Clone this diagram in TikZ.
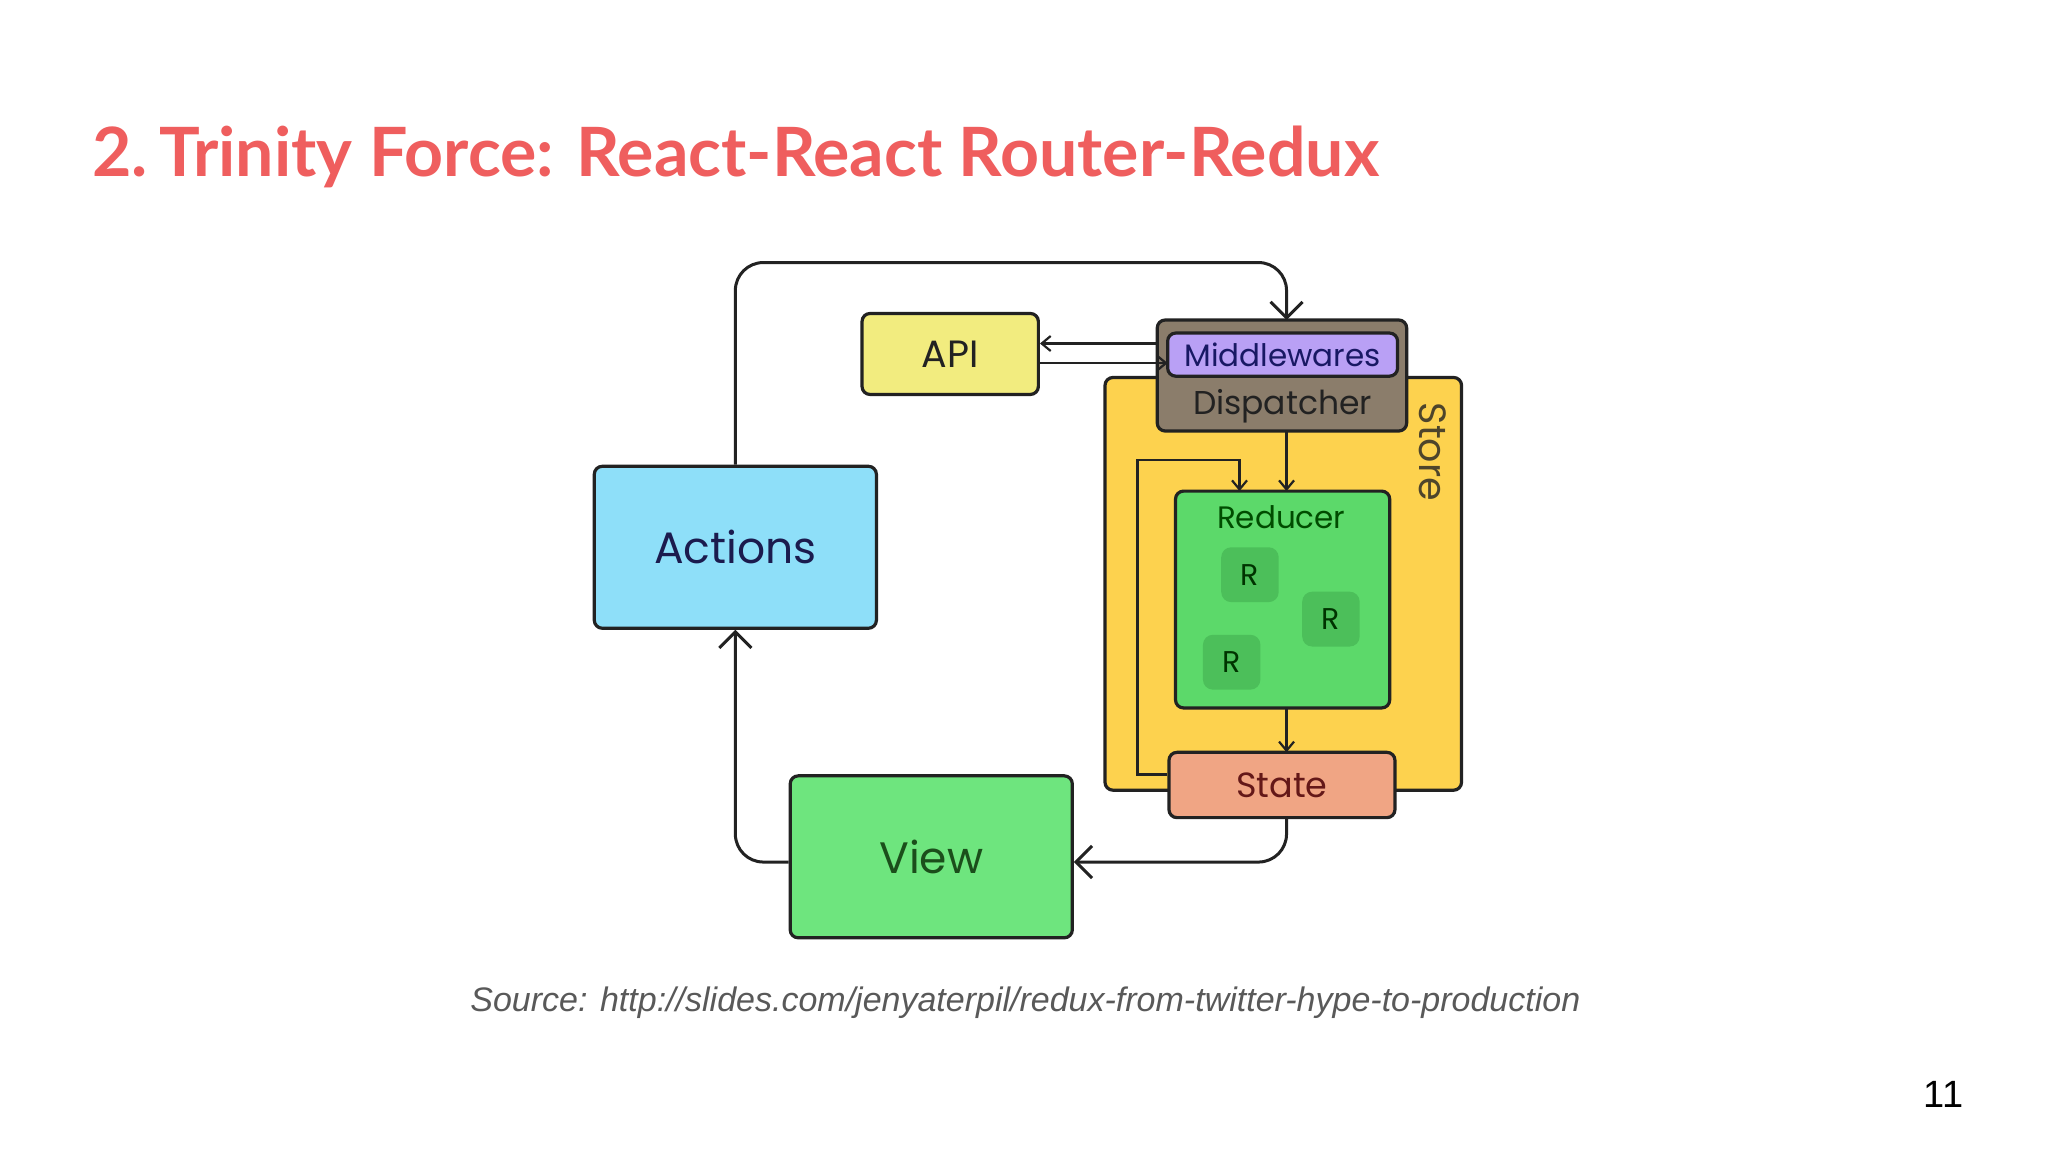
\documentclass[tikz,border=0pt]{standalone}
\usepackage{fontspec}
\setmainfont{Lato}
\newfontfamily\diag{Poppins}
\newfontfamily\src{Liberation Sans}
\usetikzlibrary{arrows.meta}
\definecolor{titlec}{HTML}{EF5E5E}
\definecolor{actc}{HTML}{8EDFF9}
\definecolor{viewc}{HTML}{6EE57E}
\definecolor{apic}{HTML}{F2EC7F}
\definecolor{dispc}{HTML}{8B7D6B}
\definecolor{midc}{HTML}{B9A0F5}
\definecolor{storec}{HTML}{FDD24E}
\definecolor{redc}{HTML}{5CD96A}
\definecolor{rc}{HTML}{4CBF5A}
\definecolor{statec}{HTML}{F0A584}
\definecolor{linec}{HTML}{222222}
\begin{document}
\begin{tikzpicture}[x=1.306pt,y=-1.306pt,
  box/.style={draw=linec,line width=3.2pt,rounded corners=8pt},
  lbl/.style={font=\diag},
  big/.style={-{Straight Barb[length=16pt,width=32pt,line width=3pt]},line width=3pt,draw=linec,rounded corners=28pt},
  small/.style={-{Straight Barb[length=9pt,width=15pt,line width=2.2pt]},line width=2.4pt,draw=linec}]
\fill[white] (0,0) rectangle (1568,882);
\node[anchor=base west,text=titlec,font=\bfseries\fontsize{68}{80}\selectfont] (title) at (68,135) {2.\,Trinity Force: React-React Router-Redux};
% store
\draw[box,fill=storec] (846,289) rectangle (1119,605);
\node[lbl,rotate=-90,text=linec!80!storec,font=\diag\fontsize{38}{40}\selectfont] (storet) at (1097,346) {Store};
% dispatcher
\draw[box,fill=dispc] (886,245) rectangle (1077,330);
\node[lbl,font=\diag\fontsize{33}{36}\selectfont,text=linec] (dispt) at (982,311) {Dispatcher};
\node[box,fill=midc,minimum width=176*1.306pt,minimum height=33*1.306pt,inner sep=0pt,font=\diag\fontsize{31}{34}\selectfont,text=linec!70!blue] (mid) at (982,271.5) {Middlewares};
% reducer
\draw[box,fill=redc] (900,376) rectangle (1064,542);
\node[lbl,font=\diag\fontsize{31}{34}\selectfont,text=green!30!black] (redt) at (981,396) {Reducer};
\foreach \n/\x/\y in {r1/957/440,r2/1019/474,r3/943/507}{
  \node[fill=rc,rounded corners=10pt,minimum width=44*1.306pt,minimum height=42*1.306pt,font=\diag\fontsize{30}{32}\selectfont,text=green!20!black] (\n) at (\x,\y) {R};}
% state
\node[box,fill=statec,minimum width=173*1.306pt,minimum height=50*1.306pt,inner sep=0pt,font=\diag\fontsize{35}{38}\selectfont,text=linec!70!red] (state) at (981.5,601) {State};
% others
\node[box,fill=actc,minimum width=216*1.306pt,minimum height=124*1.306pt,font=\diag\fontsize{44}{48}\selectfont,text=linec!80!blue] (act) at (563,419) {Actions};
\node[box,fill=viewc,minimum width=216*1.306pt,minimum height=124*1.306pt,font=\diag\fontsize{44}{48}\selectfont,text=linec!80!green] (view) at (713,656) {View};
\node[box,fill=apic,minimum width=135*1.306pt,minimum height=62*1.306pt,font=\diag\fontsize{38}{42}\selectfont,text=linec] (api) at (727.5,271) {API};
% arrows
\draw[big] (act.north) -- (563,201) -- (985,201) -- (985,245);
\draw[big] (state.south -| 985,0) -- (985,660) -- (view.east |- 0,660);
\draw[big] (view.west |- 0,660) -- (563,660) -- (act.south);
\draw[small] (886,263) -- (api.east |- 0,263);
\draw[small] (api.east |- 0,278) -- (894,278);
\draw[small] (985,330) -- (985,376);
\draw[small] (985,542) -- (985,576);
\draw[small] (state.west |- 0,593) -- (871,593) -- (871,352) -- (949,352) -- (949,376);
% source
\node[font=\src\itshape\fontsize{34}{38}\selectfont,text=black!65] (source) at (785,768) {Source: http://slides.com/jenyaterpil/redux-from-twitter-hype-to-production};
\node[font=\src\fontsize{38}{42}\selectfont] (num) at (1488,838) {11};
\end{tikzpicture}
\end{document}
